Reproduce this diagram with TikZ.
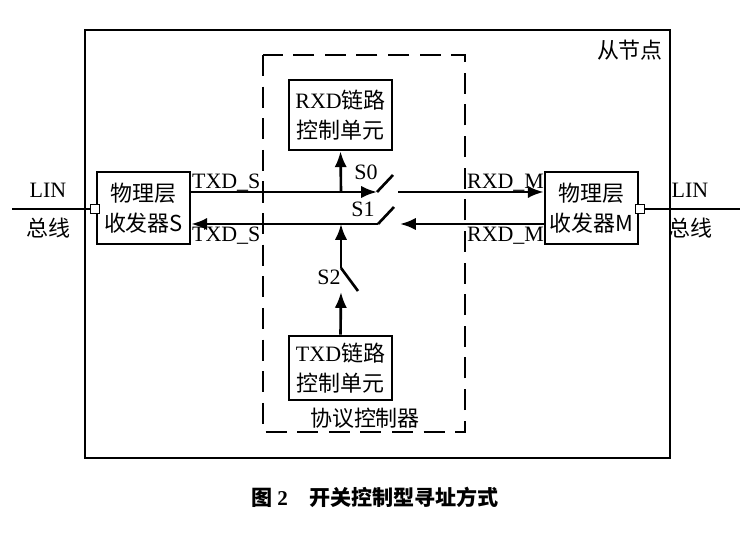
\documentclass[tikz,border=0pt]{standalone}
\usepackage{fontspec}
\setmainfont{Liberation Serif}
\newfontfamily\cjk{Noto Sans CJK SC}
\usetikzlibrary{arrows.meta}
\begin{document}
\begin{tikzpicture}[x=0.02cm,y=-0.02cm,font=\fontsize{12.5}{15}\selectfont,
  box/.style={draw,line width=1.5pt,inner sep=0pt},
  lbl/.style={inner sep=1pt},
  arr/.style={line width=1.5pt,-{Latex[length=9pt,width=7pt]}},
  wire/.style={line width=1.5pt}]
\useasboundingbox (0,0) rectangle (750,536);
% frames
\draw [line width=1.5pt] (85,30) rectangle (670,458);
\draw [line width=1.5pt,dash pattern=on 12pt off 6pt] (263,55) rectangle (465,432);
\node [lbl,anchor=north east] (slave) at (665,38) {\cjk 从节点};
\node [lbl] (proto) at (365,418) {\cjk 协议控制器};
% boxes
\node [box,minimum width=93*0.02cm,minimum height=72*0.02cm] (phyS) at (143.5,208) {};
\node [lbl,align=center] at (phyS) {\cjk 物理层\\[2pt]\cjk 收发器S};
\node [box,minimum width=93*0.02cm,minimum height=72*0.02cm] (phyM) at (591.5,208) {};
\node [lbl,align=center] at (phyM) {\cjk 物理层\\[2pt]\cjk 收发器M};
\node [box,minimum width=103*0.02cm,minimum height=70*0.02cm,align=center] (rxd) at (340.5,115) {RXD{\cjk 链路}\\[2pt]{\cjk 控制单元}};
\node [box,minimum width=103*0.02cm,minimum height=64*0.02cm,align=center] (txd) at (340.5,368) {TXD{\cjk 链路}\\[2pt]{\cjk 控制单元}};
% LIN buses
\coordinate (linL) at (12,209);
\coordinate (linR) at (740,209);
\node [draw,line width=0.6pt,minimum size=5pt,inner sep=0pt,fill=white] (portL) at (95,209) {};
\node [draw,line width=0.6pt,minimum size=5pt,inner sep=0pt,fill=white] (portR) at (640,209) {};
\draw [wire] (linL) -- (portL);
\draw [wire] (portR) -- (linR);
\node [lbl] at (48,190) {LIN};
\node [lbl] at (48,228) {\cjk 总线};
\node [lbl] at (690,190) {LIN};
\node [lbl] at (690,228) {\cjk 总线};
% switch points
\coordinate (s0a) at (377,192);
\coordinate (s0b) at (393,175);
\coordinate (s0c) at (398,192);
\coordinate (s1a) at (378,224);
\coordinate (s1b) at (394,207);
\coordinate (s1c) at (400,224);
\coordinate (s2a) at (341,292);
\coordinate (s2b) at (341,268);
\coordinate (s2c) at (358,291);
\coordinate (j0) at (341,192);
\coordinate (j1) at (341,224);
% signal lines
\draw [arr] (phyS.east |- s0a) -- (s0a);
\draw [wire] (s0a) -- (s0b);
\draw [arr] (s0c) -- (phyM.west |- s0c);
\draw [arr] (j0) -- (rxd.south);
\draw [arr] (phyM.west |- s1c) -- (s1c);
\draw [wire] (s1a) -- (s1b);
\draw [arr] (s1a) -- (phyS.east |- s1a);
\draw [arr] (txd.north) -- (s2a);
\draw [wire] (s2b) -- (s2c);
\draw [arr] (s2b) -- (j1);
% labels
\node [lbl,anchor=south west] at (190,193) {TXD\_S};
\node [lbl,anchor=north west] at (190,225) {TXD\_S};
\node [lbl,anchor=south west] at (465,193) {RXD\_M};
\node [lbl,anchor=north west] at (465,225) {RXD\_M};
\node [lbl] at (366,172) {S0};
\node [lbl] at (363,209) {S1};
\node [lbl] at (329,277) {S2};
% caption
\node [lbl,font=\fontsize{12}{14}\selectfont\bfseries] (cap) at (375,497) {{\cjk 图} 2\quad{\cjk 开关控制型寻址方式}};
\end{tikzpicture}
\end{document}
